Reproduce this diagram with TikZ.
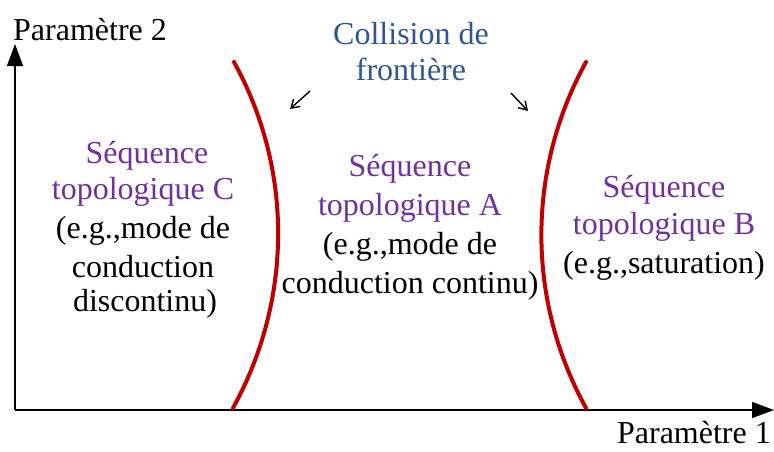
\documentclass[tikz,border=0pt]{standalone}
\usepackage{fontspec}
\setmainfont{Liberation Serif}
\usetikzlibrary{arrows.meta}
\definecolor{bordred}{HTML}{C00000}
\definecolor{seqpurple}{HTML}{7030A0}
\definecolor{colblue}{HTML}{2F5597}
\begin{document}
\begin{tikzpicture}[x=1pt,y=-1pt,
  lbl/.style={inner sep=0pt,anchor=base,font=\fontsize{32}{36}\selectfont},
  seq/.style={lbl,text=seqpurple},
  ex/.style={lbl,text=black},
  axis/.style={line width=1.4pt,-{Triangle[length=22pt,width=16pt]}},
  border/.style={line width=4pt,bordred,line cap=round},
  hint/.style={line width=1.4pt,-{Straight Barb[length=8pt,width=10pt]}}]
\useasboundingbox (0,0) rectangle (774,451);
% axes
\coordinate (O) at (15,410);
\coordinate (Ytip) at (15,44);
\coordinate (Xtip) at (774,410);
\draw[axis] (O) -- (Ytip);
\draw[axis] (O) -- (Xtip);
\node[lbl,anchor=base west] (p2) at (13,40) {Paramètre 2};
\node[lbl,anchor=base east] (p1) at (771,443) {Paramètre 1};
% boundaries
\coordinate (L1) at (234,62);
\coordinate (L2) at (233,408);
\coordinate (R1) at (586,62);
\coordinate (R2) at (586,408);
\draw[border] (L1) .. controls (293.5,170) and (292.5,300) .. (L2);
\draw[border] (R1) .. controls (526.5,170) and (526.5,300) .. (R2);
% collision label
\node[lbl,text=colblue] (c1) at (411,44) {Collision de};
\node[lbl,text=colblue] (c2) at (411,80) {frontière};
\coordinate (a1s) at (310,91);
\coordinate (a1e) at (290,109);
\coordinate (a2s) at (511,93);
\coordinate (a2e) at (528,111);
\draw[hint] (a1s) -- (a1e);
\draw[hint] (a2s) -- (a2e);
% region C
\node[seq] (c-1) at (147,163) {Séquence};
\node[seq] (c-2) at (143,199) {topologique C};
\node[ex] (c-3) at (143,238) {(e.g.,mode de};
\node[ex] (c-4) at (143,277) {conduction};
\node[ex] (c-5) at (145,311) {discontinu)};
% region A
\node[seq] (a-1) at (410,176) {Séquence};
\node[seq] (a-2) at (410,215) {topologique A};
\node[ex] (a-3) at (410,254) {(e.g.,mode de};
\node[ex] (a-4) at (410,293) {conduction continu)};
% region B
\node[seq] (b-1) at (664,197) {Séquence};
\node[seq] (b-2) at (664,234) {topologique B};
\node[ex] (b-3) at (664,273) {(e.g.,saturation)};
\end{tikzpicture}
\end{document}
